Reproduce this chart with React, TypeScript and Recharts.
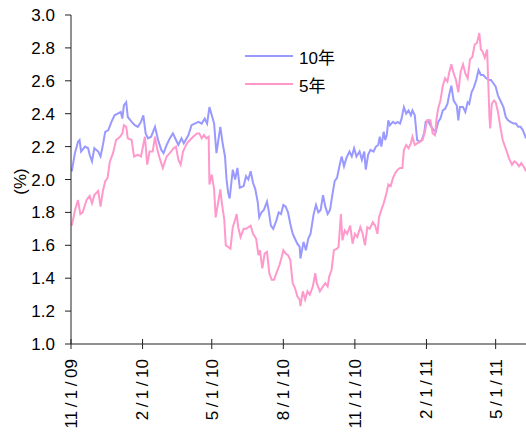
import React from 'react';
import { LineChart, Line, XAxis, YAxis, Legend } from 'recharts';

const FONT = "'Liberation Sans', Arial, 'Noto Sans CJK JP', sans-serif";

// x positions are calendar days counted from 11/1/09
const tickDays = [0, 92, 181, 273, 365, 457, 546];
const tickLabels = ['11/1/09', '2/1/10', '5/1/10', '8/1/10', '11/1/10', '2/1/11', '5/1/11'];
const lastDay = 585;

const yTicks = [1.0, 1.2, 1.4, 1.6, 1.8, 2.0, 2.2, 2.4, 2.6, 2.8, 3.0];

const tenYearDays = [
  1, 5, 9, 11, 13, 18, 22, 24, 27, 30, 35, 38, 41, 44, 48, 52, 56, 60, 64, 66,
  68, 71, 73, 78, 82, 86, 90, 93, 96, 99, 103, 108, 112, 116, 119, 123, 127, 131, 135, 138,
  142, 145, 151, 155, 159, 164, 168, 172, 175, 178, 181, 184, 187, 192, 195, 198, 200, 202, 204, 208,
  211, 214, 217, 222, 225, 228, 231, 234, 237, 240, 242, 245, 248, 252, 254, 257, 260, 264, 267, 270,
  273, 276, 279, 282, 285, 288, 291, 294, 295, 299, 302, 305, 308, 312, 315, 318, 321, 324, 327, 330,
  333, 336, 339, 342, 346, 348, 351, 354, 358, 361, 364, 367, 371, 374, 377, 379, 382, 385, 389, 392,
  395, 397, 399, 402, 404, 406, 408, 410, 414, 417, 420, 423, 425, 428, 431, 434, 437, 439, 442, 445,
  448, 451, 454, 456, 459, 462, 466, 469, 472, 475, 478, 481, 484, 486, 489, 492, 496, 498, 500, 504,
  507, 510, 512, 515, 518, 521, 524, 527, 530, 534, 537, 540, 543, 546, 549, 552, 556, 559, 562, 565,
  569, 572, 575, 578, 581, 585,
];
const tenYearValues = [
  2.05, 2.16, 2.23, 2.24, 2.17, 2.2, 2.19, 2.15, 2.11, 2.19, 2.17, 2.14, 2.21, 2.29, 2.3, 2.35, 2.39, 2.4, 2.41, 2.37,
  2.45, 2.47, 2.38, 2.35, 2.33, 2.32, 2.35, 2.39, 2.28, 2.25, 2.26, 2.32, 2.24, 2.18, 2.16, 2.21, 2.25, 2.28, 2.24, 2.21,
  2.25, 2.22, 2.27, 2.33, 2.34, 2.35, 2.34, 2.37, 2.34, 2.44, 2.39, 2.34, 2.16, 2.32, 2.22, 2.14, 2.0, 1.92, 1.885, 2.06,
  2.0, 2.07, 1.95, 1.96, 2.02, 2.0, 2.05, 1.98, 1.94, 1.865, 1.77, 1.8, 1.815, 1.865, 1.815, 1.72, 1.7, 1.75, 1.8, 1.79,
  1.845, 1.835, 1.8, 1.73, 1.67, 1.64, 1.61, 1.59, 1.52, 1.62, 1.57, 1.64, 1.67, 1.79, 1.845, 1.8, 1.815, 1.905, 1.835, 1.79,
  1.815, 1.905, 1.99, 2.01, 2.1, 2.14, 2.08, 2.13, 2.17, 2.14, 2.19, 2.14, 2.17, 2.12, 2.17, 2.06, 2.15, 2.18, 2.17, 2.2,
  2.21, 2.26, 2.2, 2.29, 2.24, 2.27, 2.36, 2.33, 2.35, 2.34, 2.35, 2.34, 2.37, 2.44, 2.4, 2.42, 2.39, 2.42, 2.39, 2.24,
  2.23, 2.24, 2.28, 2.35, 2.36, 2.33, 2.3, 2.29, 2.35, 2.37, 2.42, 2.43, 2.46, 2.51, 2.57, 2.48, 2.45, 2.36, 2.44, 2.44,
  2.41, 2.47, 2.46, 2.53, 2.56, 2.605, 2.665, 2.635, 2.635, 2.615, 2.605, 2.605, 2.585, 2.565, 2.51, 2.48, 2.44, 2.38, 2.36, 2.35,
  2.34, 2.34, 2.32, 2.32, 2.3, 2.25,
];

const fiveYearDays = [
  1, 5, 9, 12, 15, 20, 24, 27, 30, 35, 38, 41, 44, 47, 50, 54, 58, 63, 66, 68,
  71, 73, 78, 81, 86, 90, 95, 98, 101, 105, 108, 111, 114, 118, 123, 127, 132, 135, 138, 141,
  144, 149, 153, 157, 162, 165, 168, 171, 174, 177, 178, 181, 184, 186, 189, 192, 194, 197, 199, 202,
  205, 208, 211, 213, 215, 218, 222, 225, 228, 231, 234, 238, 241, 243, 246, 249, 252, 255, 258, 261,
  264, 268, 271, 273, 276, 279, 282, 285, 288, 291, 294, 295, 298, 301, 304, 307, 311, 314, 316, 320,
  324, 327, 330, 332, 335, 338, 342, 344, 347, 349, 352, 355, 359, 362, 365, 368, 372, 375, 378, 381,
  384, 388, 391, 394, 396, 399, 402, 405, 408, 411, 414, 417, 420, 423, 426, 428, 431, 434, 437, 439,
  442, 445, 449, 452, 455, 458, 462, 465, 468, 470, 472, 475, 478, 481, 484, 486, 489, 492, 495, 498,
  501, 504, 507, 510, 513, 516, 519, 522, 525, 527, 529, 532, 535, 538, 539, 541, 544, 546, 549, 552,
  555, 558, 561, 563, 567, 570, 573, 576, 579, 583, 585,
];
const fiveYearValues = [
  1.72, 1.81, 1.875, 1.79, 1.8, 1.875, 1.9, 1.855, 1.905, 1.93, 1.835, 1.93, 1.99, 2.01, 2.11, 2.16, 2.24, 2.26, 2.28, 2.33,
  2.32, 2.25, 2.24, 2.14, 2.15, 2.14, 2.26, 2.09, 2.17, 2.17, 2.26, 2.18, 2.13, 2.07, 2.14, 2.16, 2.19, 2.2, 2.12, 2.09,
  2.17, 2.22, 2.24, 2.26, 2.28, 2.28, 2.25, 2.27, 2.25, 2.26, 1.97, 2.03, 1.94, 1.77, 1.855, 1.94, 1.855, 1.76, 1.6, 1.59,
  1.58, 1.71, 1.755, 1.79, 1.71, 1.65, 1.7, 1.7, 1.71, 1.72, 1.67, 1.64, 1.54, 1.57, 1.46, 1.55, 1.56, 1.43, 1.39, 1.39,
  1.43, 1.48, 1.53, 1.57, 1.55, 1.54, 1.51, 1.37, 1.34, 1.29, 1.27, 1.23, 1.32, 1.27, 1.32, 1.3, 1.35, 1.43, 1.37, 1.32,
  1.35, 1.37, 1.35, 1.41, 1.45, 1.57, 1.58, 1.59, 1.79, 1.63, 1.69, 1.67, 1.72, 1.61, 1.67, 1.65, 1.71, 1.67, 1.6, 1.71,
  1.7, 1.74, 1.72, 1.67, 1.77, 1.815, 1.855, 1.905, 1.97, 1.96, 2.01, 2.04, 2.06, 2.07, 2.07, 2.18, 2.21, 2.19, 2.22, 2.26,
  2.21, 2.22, 2.23, 2.24, 2.29, 2.36, 2.36, 2.28, 2.27, 2.37, 2.43, 2.48, 2.57, 2.615, 2.595, 2.645, 2.7, 2.645, 2.605, 2.53,
  2.655, 2.7, 2.645, 2.615, 2.73, 2.745, 2.82, 2.83, 2.89, 2.79, 2.78, 2.74, 2.79, 2.38, 2.31, 2.46, 2.48, 2.47, 2.41, 2.32,
  2.24, 2.2, 2.16, 2.13, 2.09, 2.11, 2.1, 2.08, 2.1, 2.07, 2.05,
];

const tenYearData = tenYearDays.map((day, i) => ({ day, value: tenYearValues[i] }));
const fiveYearData = fiveYearDays.map((day, i) => ({ day, value: fiveYearValues[i] }));

const DateTick = (props: any) => {
  const { x, y, payload } = props;
  const label = tickLabels[tickDays.indexOf(payload.value)] ?? '';
  const parts = label.split('/');
  return (
    <g>
      <line x1={x} x2={x} y1={y - 20} y2={y - 10} stroke="#222" />
      <text
        x={x}
        y={y}
        transform={`rotate(-90, ${x}, ${y})`}
        textAnchor="end"
        dy="0.35em"
        fontSize={17}
        fontFamily={FONT}
        fill="#000"
      >
        {parts.map((p, i) =>
          i === 0 ? (
            <tspan key={i}>{p}</tspan>
          ) : (
            <React.Fragment key={i}>
              <tspan dx={3.5}>/</tspan>
              <tspan dx={3.5}>{p}</tspan>
            </React.Fragment>
          )
        )}
      </text>
    </g>
  );
};

const PercentLabel = (props: any) => {
  const vb = props.viewBox || { x: 0, y: 15, width: 71, height: 329 };
  const cx = vb.x + 20;
  const cy = vb.y + vb.height / 2 + 2;
  return (
    <text
      x={cx}
      y={cy}
      transform={`rotate(-90, ${cx}, ${cy})`}
      textAnchor="middle"
      dominantBaseline="central"
      fontSize={17}
      fontFamily={FONT}
      fill="#000"
    >
      (%)
    </text>
  );
};

const renderLegend = (props: any) => (
  <div style={{ fontFamily: FONT, fontSize: 17, color: '#000' }}>
    {(props.payload || []).map((entry: any) => (
      <div key={entry.value} style={{ display: 'flex', alignItems: 'center', height: 28 }}>
        <svg width={48} height={4}>
          <line x1={0} y1={2} x2={48} y2={2} stroke={entry.color} strokeWidth={2} />
        </svg>
        <span style={{ marginLeft: 6 }}>{entry.value}</span>
      </div>
    ))}
  </div>
);

export default function App() {
  return (
    <div style={{ position: 'absolute', left: 0, top: 0, background: '#fff' }}>
      <LineChart width={526} height={437} margin={{ top: 15, right: 0, bottom: 0, left: 0 }}>
        <XAxis
          type="number"
          dataKey="day"
          domain={[0, lastDay]}
          ticks={tickDays}
          tick={<DateTick />}
          tickLine={false}
          tickSize={5}
          tickMargin={10}
          height={93}
          stroke="#222"
          allowDataOverflow
        />
        <YAxis
          type="number"
          domain={[1, 3]}
          ticks={yTicks}
          width={71}
          tickSize={6}
          tickMargin={10}
          stroke="#222"
          tick={{ fill: '#000', fontSize: 17, fontFamily: FONT }}
          tickFormatter={(v: number) => v.toFixed(1)}
          label={PercentLabel}
        />
        <Legend
          layout="vertical"
          align="center"
          verticalAlign="middle"
          content={renderLegend}
          wrapperStyle={{ left: 245, top: 42, width: 'auto' }}
        />
        <Line
          name="10年"
          data={tenYearData}
          dataKey="value"
          stroke="#9999ff"
          strokeWidth={2}
          dot={false}
          activeDot={false}
          isAnimationActive={false}
        />
        <Line
          name="5年"
          data={fiveYearData}
          dataKey="value"
          stroke="#ff99cc"
          strokeWidth={2}
          dot={false}
          activeDot={false}
          isAnimationActive={false}
        />
      </LineChart>
    </div>
  );
}
